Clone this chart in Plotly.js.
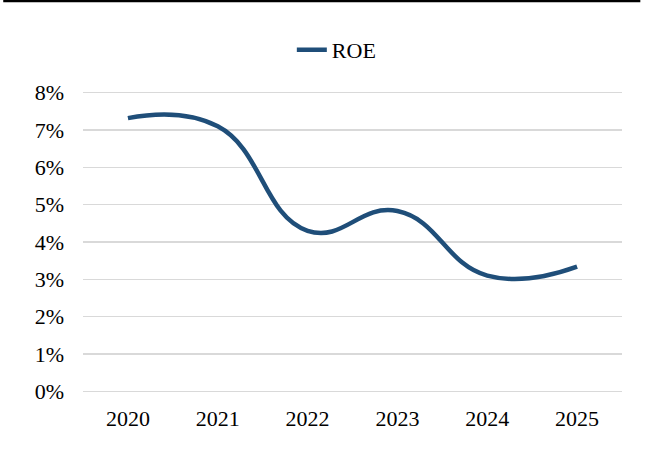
<!DOCTYPE html>
<html>
<head>
<meta charset="utf-8">
<script src="https://cdn.plot.ly/plotly-3.0.1.min.js"></script>
<style>html,body{margin:0;padding:0;background:#fff;}#chart{width:654px;height:459px;}</style>
</head>
<body>
<div id="chart"></div>
<script>
var years = ['2020', '2021', '2022', '2023', '2024', '2025'];
var roe = [0.0732, 0.0710, 0.0430, 0.0483, 0.0310, 0.0334];
var yTicks = [0, 0.01, 0.02, 0.03, 0.04, 0.05, 0.06, 0.07, 0.08];
var seriesName = 'ROE';

var font = {family: '"Liberation Serif", "Times New Roman", serif', size: 22, color: '#000'};

Plotly.newPlot('chart', [{
  x: years,
  y: roe,
  name: seriesName,
  type: 'scatter',
  mode: 'lines',
  line: {color: '#1F4E79', width: 4.5, shape: 'spline', smoothing: 1.3},
  showlegend: true
}], {
  width: 654, height: 459,
  margin: {l: 83, r: 32, t: 89.3, b: 64.3},
  paper_bgcolor: '#fff', plot_bgcolor: '#fff',
  font: font,
  showlegend: true,
  legend: {orientation: 'h', x: 0.47, xanchor: 'center', y: 1.128, yanchor: 'middle', font: font, itemwidth: 30},
  xaxis: {type: 'category', range: [-0.5, 5.5], showgrid: false, showline: false, zeroline: false, ticks: '', ticklabelstandoff: 8, tickfont: font},
  yaxis: {range: [-0.001, 0.081], tickvals: yTicks, tickformat: '.0%', showgrid: true, gridcolor: '#d9d9d9', gridwidth: 1.5, zeroline: false, showline: false, ticks: '', ticklabelstandoff: 18, tickfont: font},
  shapes: [{type: 'line', xref: 'paper', yref: 'paper', x0: -0.148, x1: 1.034, y0: 1.2896, y1: 1.2896, line: {color: '#000', width: 3.5}}]
}, {displayModeBar: false, staticPlot: true});
</script>
</body>
</html>
